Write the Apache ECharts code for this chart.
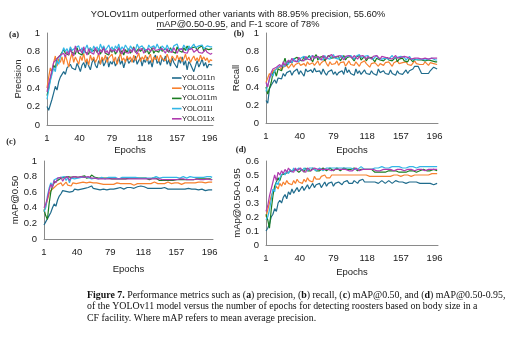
<!DOCTYPE html>
<html><head><meta charset="utf-8">
<script src="https://cdn.jsdelivr.net/npm/echarts@6/dist/echarts.min.js"></script>
<style>html,body{margin:0;padding:0;background:#fff}#c{width:514px;height:337px}</style>
</head><body><div id="c"></div>
<script>
// sampled epochs (every 2nd epoch)
const epochs = [1,3,5,7,9,11,13,15,17,19,21,23,25,27,29,31,33,35,37,39,41,43,45,47,49,51,53,55,57,59,61,63,65,67,69,71,73,75,77,79,81,83,85,87,89,91,93,95,97,99,101,103,105,107,109,111,113,115,117,119,121,123,125,127,129,131,133,135,137,139,141,143,145,147,149,151,153,155,157,159,161,163,165,167,169,171,173,175,177,179,181,183,185,187,189,191,193,195,197,199];
const xTicks = [1,40,79,118,157,196];
const yTicks01 = [0,0.2,0.4,0.6,0.8,1];
const yTicks06 = [0,0.1,0.2,0.3,0.4,0.5,0.6];
const models = ['YOLO11n','YOLO11s','YOLO11m','YOLO11l','YOLO11x'];

// (a) Precision
const precN = [.20,.16,.22,.28,.35,.42,.38,.47,.52,.50, .58,.55,.62,.60,.66,.62,.64,.60,.67,.63, .58,.65,.68,.62,.70,.64,.60,.68,.72,.65, .62,.70,.66,.73,.64,.68,.74,.63,.69,.66, .71,.64,.68,.74,.66,.70,.62,.69,.73,.67, .65,.72,.68,.75,.66,.70,.73,.64,.71,.68, .74,.66,.70,.63,.72,.76,.67,.70,.65,.73, .69,.75,.66,.71,.64,.73,.68,.70,.62,.72, .67,.74,.65,.70,.60,.69,.66,.62,.58,.59, .70,.63,.67,.72,.64,.68,.62,.66,.64,.65];
const precS = [.40,.52,.62,.58,.68,.75,.64,.72,.68,.74, .66,.76,.70,.63,.72,.78,.68,.74,.70,.66, .75,.70,.78,.68,.72,.65,.76,.70,.74,.68, .72,.78,.66,.74,.70,.76,.68,.73,.71,.77, .69,.74,.66,.72,.78,.70,.73,.68,.75,.71, .74,.68,.76,.70,.72,.78,.69,.74,.71,.76, .70,.73,.77,.68,.74,.71,.75,.69,.76,.72, .74,.70,.77,.72,.68,.75,.73,.70,.76,.71, .74,.69,.72,.77,.70,.74,.68,.72,.75,.70, .73,.69,.76,.71,.74,.70,.73,.68,.71,.70];
const precM = [.32,.40,.50,.58,.65,.62,.72,.70,.76,.74, .82,.78,.80,.76,.83,.79,.81,.77,.84,.78, .80,.76,.83,.79,.81,.77,.84,.80,.78,.82, .79,.83,.77,.81,.85,.78,.80,.76,.82,.79, .83,.77,.80,.84,.78,.81,.76,.82,.79,.83, .78,.81,.85,.79,.77,.83,.80,.78,.84,.79, .82,.77,.80,.84,.78,.81,.83,.79,.85,.80, .78,.83,.81,.79,.84,.80,.82,.78,.85,.81, .83,.79,.84,.81,.86,.82,.80,.84,.82,.85, .81,.84,.82,.86,.80,.83,.85,.82,.84,.83];
const precL = [.28,.38,.48,.55,.62,.58,.70,.66,.74,.78, .84,.80,.83,.78,.85,.81,.79,.84,.82,.86, .80,.84,.78,.83,.87,.81,.84,.79,.86,.82, .85,.80,.88,.83,.86,.81,.84,.87,.82,.85, .80,.86,.83,.88,.81,.85,.82,.87,.84,.80, .86,.83,.85,.81,.88,.84,.82,.86,.83,.85, .81,.87,.84,.82,.86,.83,.88,.84,.81,.86, .84,.82,.87,.83,.85,.81,.86,.84,.88,.83, .85,.82,.87,.84,.81,.86,.83,.85,.88,.84, .82,.86,.84,.87,.83,.85,.86,.84,.85,.85];
const precX = [.36,.45,.52,.60,.68,.66,.72,.70,.76,.74, .78,.74,.80,.76,.82,.78,.75,.86,.79,.77, .82,.78,.85,.80,.76,.83,.79,.81,.77,.84, .80,.76,.82,.79,.84,.78,.81,.77,.83,.80, .78,.82,.79,.84,.80,.77,.83,.79,.81,.78, .82,.79,.84,.80,.77,.82,.80,.83,.78,.81, .79,.83,.80,.78,.84,.81,.79,.82,.80,.83, .81,.78,.83,.80,.82,.79,.84,.81,.78,.82, .80,.83,.79,.81,.78,.82,.80,.83,.79,.81, .82,.79,.81,.78,.80,.82,.79,.81,.77,.78];

// (b) Recall
const recN = [.25,.22,.38,.42,.45,.48,.44,.50,.52,.49, .55,.52,.56,.54,.58,.53,.57,.55,.60,.54, .58,.56,.52,.60,.57,.55,.59,.56,.61,.57, .55,.58,.54,.60,.56,.53,.57,.55,.59,.54, .57,.53,.56,.55,.58,.54,.62,.56,.59,.55, .57,.53,.60,.55,.58,.54,.56,.59,.55,.57, .54,.58,.55,.57,.53,.60,.56,.54,.58,.55, .57,.54,.59,.55,.56,.53,.58,.55,.57,.54, .56,.59,.55,.58,.57,.60,.63,.61,.63,.62, .55,.54,.55,.56,.55,.58,.60,.62,.61,.60];
const recS = [.45,.50,.55,.52,.58,.56,.60,.58,.62,.59, .62,.60,.64,.61,.63,.66,.62,.65,.63,.67, .64,.62,.66,.63,.68,.65,.63,.67,.64,.66, .69,.64,.67,.65,.70,.66,.63,.68,.65,.67, .66,.69,.64,.67,.65,.68,.63,.66,.69,.65, .67,.64,.68,.66,.63,.67,.65,.69,.66,.64, .62,.66,.64,.67,.65,.63,.66,.68,.64,.67, .65,.68,.66,.63,.67,.65,.69,.66,.64,.67, .66,.68,.65,.67,.64,.66,.69,.66,.68,.65, .67,.65,.68,.66,.64,.67,.65,.66,.64,.65];
const recM = [.40,.32,.30,.45,.55,.58,.52,.60,.62,.58, .66,.72,.64,.68,.70,.67,.71,.69,.73,.70, .72,.69,.74,.70,.72,.75,.71,.68,.73,.76, .70,.73,.71,.74,.69,.72,.75,.77,.72,.70, .73,.71,.74,.69,.72,.75,.70,.73,.71,.74, .72,.69,.73,.71,.75,.70,.72,.74,.69,.72, .70,.73,.71,.68,.72,.74,.70,.72,.69,.71, .73,.70,.72,.69,.71,.73,.68,.71,.70,.72, .69,.71,.68,.72,.70,.68,.71,.69,.70,.68, .70,.68,.69,.67,.70,.68,.69,.67,.68,.68];
const recL = [.35,.42,.48,.55,.52,.58,.56,.62,.60,.64, .66,.63,.68,.65,.70,.67,.72,.69,.71,.68, .72,.70,.74,.71,.69,.73,.71,.75,.72,.70, .74,.71,.73,.70,.75,.72,.74,.71,.73,.76, .72,.74,.71,.73,.75,.72,.70,.74,.72,.75, .73,.71,.74,.72,.76,.73,.71,.74,.72,.75, .72,.74,.71,.73,.75,.72,.74,.71,.73,.72, .74,.71,.73,.75,.72,.70,.73,.71,.74,.72, .73,.70,.72,.74,.71,.73,.70,.72,.71,.73, .71,.73,.70,.72,.71,.70,.72,.71,.70,.70];
const recX = [.45,.40,.50,.56,.60,.58,.62,.60,.65,.62, .68,.64,.66,.70,.67,.72,.69,.71,.68,.73, .70,.72,.69,.74,.71,.73,.70,.75,.72,.71, .74,.72,.70,.75,.73,.71,.74,.72,.76,.73, .71,.74,.72,.75,.73,.70,.74,.72,.75,.73, .72,.75,.73,.71,.74,.72,.75,.73,.71,.74, .73,.71,.74,.72,.75,.73,.71,.74,.72,.73, .75,.72,.74,.71,.73,.75,.72,.74,.73,.71, .74,.72,.73,.75,.71,.73,.72,.74,.72,.73, .71,.73,.72,.74,.71,.73,.72,.71,.72,.72];

// (c) mAP@0.50
const m50N = [.18,.22,.26,.30,.34,.40,.45,.42,.50,.55, .58,.62,.60,.61,.63,.60,.62,.61,.64,.62, .63,.61,.64,.62,.65,.63,.66,.64,.68,.65, .67,.64,.66,.63,.65,.64,.66,.63,.65,.64, .65,.64,.66,.65,.64,.66,.65,.64,.65,.66, .65,.66,.64,.65,.66,.67,.66,.68,.66,.67, .66,.65,.66,.65,.64,.65,.66,.65,.64,.65, .65,.66,.65,.64,.65,.64,.65,.64,.63,.64, .65,.64,.65,.64,.64,.65,.64,.64,.63,.64, .64,.63,.64,.64,.63,.62,.63,.63,.64,.63];
const m50S = [.35,.42,.50,.58,.62,.60,.66,.64,.70,.68, .72,.68,.70,.73,.69,.71,.68,.72,.70,.71, .69,.72,.70,.73,.71,.72,.70,.73,.71,.72, .71,.72,.70,.71,.72,.70,.71,.70,.71,.70, .71,.70,.71,.72,.70,.71,.70,.71,.70,.71, .70,.71,.70,.69,.70,.71,.72,.71,.70,.71, .72,.71,.70,.71,.72,.73,.72,.71,.72,.71, .72,.71,.72,.73,.72,.71,.72,.72,.73,.72, .71,.70,.71,.72,.71,.72,.71,.72,.73,.72, .72,.73,.72,.73,.73,.72,.73,.73,.73,.73];
const m50M = [.38,.30,.25,.45,.60,.68,.72,.70,.75,.74, .78,.76,.79,.77,.80,.78,.79,.77,.80,.78, .79,.78,.80,.79,.81,.78,.80,.79,.82,.80, .79,.80,.78,.79,.78,.79,.78,.77,.78,.78, .77,.78,.77,.78,.77,.78,.77,.78,.77,.78, .78,.77,.78,.77,.78,.77,.78,.77,.78,.77, .78,.77,.76,.77,.78,.77,.78,.76,.75,.76, .75,.76,.75,.74,.75,.76,.75,.76,.76,.75, .76,.75,.76,.77,.76,.75,.76,.77,.76,.76, .77,.76,.77,.76,.77,.76,.77,.76,.77,.76];
const m50L = [.35,.40,.55,.65,.72,.68,.76,.74,.78,.80, .79,.77,.80,.75,.79,.72,.78,.80,.77,.79, .78,.80,.79,.78,.79,.77,.79,.78,.77,.78, .78,.79,.77,.78,.79,.78,.77,.78,.79,.78, .79,.78,.79,.78,.77,.78,.79,.78,.79,.78, .79,.78,.79,.78,.79,.80,.78,.79,.78,.79, .78,.79,.78,.79,.78,.79,.80,.79,.78,.79, .79,.78,.79,.78,.79,.80,.79,.78,.79,.79, .78,.79,.80,.79,.78,.79,.80,.79,.79,.80, .79,.80,.79,.80,.79,.79,.80,.79,.80,.79];
const m50X = [.40,.45,.52,.62,.70,.66,.75,.72,.78,.76, .79,.74,.78,.76,.80,.75,.79,.77,.80,.78, .79,.77,.80,.78,.79,.77,.80,.79,.78,.79, .78,.79,.77,.78,.77,.78,.77,.78,.77,.78, .77,.78,.77,.76,.77,.78,.77,.76,.77,.76, .77,.76,.77,.78,.77,.76,.77,.76,.77,.76, .77,.76,.77,.76,.77,.76,.77,.76,.77,.76, .76,.77,.76,.77,.76,.75,.76,.77,.76,.76, .77,.76,.77,.76,.76,.77,.76,.77,.76,.76, .77,.76,.76,.77,.76,.76,.77,.76,.76,.76];

// (d) mAP@0.50-0.95
const m95N = [.10,.12,.15,.20,.22,.26,.24,.30,.32,.30, .34,.36,.33,.38,.36,.40,.37,.39,.41,.38, .40,.42,.39,.41,.43,.40,.42,.44,.41,.43, .42,.44,.41,.43,.45,.42,.44,.43,.45,.42, .44,.43,.45,.44,.43,.45,.44,.46,.44,.45, .44,.46,.45,.44,.46,.45,.47,.45,.44,.45, .46,.45,.44,.45,.46,.44,.45,.46,.45,.44, .45,.46,.45,.44,.45,.46,.45,.45,.44,.45, .45,.44,.45,.45,.44,.45,.44,.45,.44,.44, .45,.44,.45,.44,.45,.44,.44,.43,.44,.44];
const m95S = [.20,.25,.30,.35,.38,.40,.42,.40,.44,.42, .45,.43,.46,.44,.45,.43,.46,.44,.47,.45, .46,.44,.47,.45,.48,.46,.47,.45,.49,.47, .48,.47,.49,.48,.50,.48,.49,.48,.50,.49, .50,.49,.50,.49,.50,.51,.50,.49,.50,.51, .50,.49,.50,.51,.50,.49,.50,.49,.50,.50, .49,.50,.49,.50,.49,.50,.49,.48,.49,.50, .49,.50,.49,.50,.50,.49,.50,.50,.49,.50, .50,.49,.50,.50,.49,.50,.50,.51,.50,.50, .50,.51,.50,.51,.50,.51,.51,.50,.51,.51];
const m95M = [.22,.18,.12,.25,.35,.42,.45,.48,.46,.50, .49,.51,.50,.52,.51,.53,.52,.54,.53,.52, .53,.54,.52,.55,.53,.54,.53,.55,.54,.53, .54,.53,.54,.55,.54,.53,.54,.55,.54,.53, .54,.55,.54,.53,.54,.55,.54,.54,.53,.54, .54,.55,.54,.53,.54,.54,.55,.54,.53,.54, .53,.54,.53,.52,.53,.52,.51,.52,.53,.52, .52,.53,.52,.53,.52,.53,.53,.52,.53,.52, .53,.52,.53,.53,.52,.53,.53,.52,.53,.53, .53,.54,.53,.53,.54,.53,.53,.54,.53,.53];
const m95L = [.18,.20,.25,.32,.40,.38,.45,.43,.48,.50, .52,.50,.53,.51,.54,.52,.55,.53,.54,.55, .54,.53,.55,.54,.53,.55,.54,.55,.54,.53, .54,.55,.54,.53,.54,.55,.54,.55,.54,.55, .54,.55,.54,.55,.56,.55,.54,.55,.54,.55, .55,.54,.55,.54,.55,.56,.55,.54,.55,.54, .55,.54,.55,.55,.54,.55,.55,.56,.55,.55, .56,.55,.55,.56,.55,.56,.55,.56,.56,.55, .56,.55,.56,.56,.55,.56,.56,.55,.56,.56, .56,.56,.55,.56,.56,.56,.55,.56,.56,.56];
const m95X = [.24,.28,.35,.40,.45,.50,.46,.52,.50,.53, .51,.54,.52,.55,.53,.54,.52,.55,.53,.54, .55,.53,.54,.52,.55,.54,.53,.54,.55,.54, .54,.53,.54,.53,.54,.53,.54,.54,.53,.54, .54,.53,.54,.55,.54,.53,.54,.54,.53,.54, .53,.54,.55,.54,.53,.54,.54,.53,.54,.54, .54,.53,.54,.54,.53,.54,.53,.54,.54,.53, .54,.53,.54,.54,.53,.54,.54,.53,.54,.54, .53,.54,.54,.53,.54,.54,.53,.54,.54,.53, .54,.54,.53,.54,.54,.53,.54,.54,.54,.54];

const colors = ['#1F6B8C','#F7812F','#1A7D22','#33B6E6','#B03BAE'];
const panels = [
  {series:[precN,precS,precM,precL,precX], ticks:yTicks01, name:'Precision', grid:{left:47,top:33,width:166,height:92}, xGap:20, yGap:23},
  {series:[recN,recS,recM,recL,recX], ticks:yTicks01, name:'Recall', grid:{left:266,top:33,width:172,height:90}, xGap:22, yGap:25},
  {series:[m50N,m50S,m50M,m50L,m50X], ticks:yTicks01, name:'mAP@0.50', grid:{left:44,top:161,width:169,height:78}, xGap:25, yGap:22},
  {series:[m95N,m95S,m95M,m95L,m95X], ticks:yTicks06, name:'mAp@0.50-0.95', grid:{left:266,top:161,width:172,height:84}, xGap:22, yGap:24}
];

const categories = [];
for (let e = 1; e <= 200; e++) categories.push(String(e));

const SANS = '"Liberation Sans", Arial, sans-serif';
const SERIF = '"Liberation Serif", "Times New Roman", serif';
const txt = '#1a1a1a';
const axisCol = '#8a8a8a';

const grid = [], xAxis = [], yAxis = [], series = [];
panels.forEach((p, pi) => {
  grid.push(Object.assign({containLabel:false}, p.grid));
  xAxis.push({
    type:'category', gridIndex:pi, data:categories, boundaryGap:false,
    name:'Epochs', nameLocation:'middle', nameGap:p.xGap,
    nameTextStyle:{fontFamily:SANS, fontSize:9.5, color:txt},
    axisLine:{lineStyle:{color:axisCol, width:1}}, axisTick:{show:false},
    axisLabel:{interval:(idx, val) => xTicks.includes(Number(val)), hideOverlap:false, fontFamily:SANS, fontSize:9.5, color:txt, margin:8},
    splitLine:{show:false}
  });
  const t = p.ticks;
  yAxis.push({
    type:'value', gridIndex:pi, min:t[0], max:t[t.length-1], interval:t[1]-t[0],
    name:p.name, nameLocation:'middle', nameGap:p.yGap, nameRotate:90,
    nameTextStyle:{fontFamily:SANS, fontSize:9.5, color:txt},
    axisLine:{show:true, lineStyle:{color:axisCol, width:1}}, axisTick:{show:false},
    axisLabel:{fontFamily:SANS, fontSize:9.5, color:txt, margin:7},
    splitLine:{show:false}
  });
  p.series.forEach((vals, mi) => {
    series.push({
      type:'line', name:models[mi], xAxisIndex:pi, yAxisIndex:pi,
      data: epochs.map((e, i) => [String(e), vals[i]]),
      showSymbol:false, symbol:'none', animation:false,
      lineStyle:{color:colors[mi], width:1.2}, itemStyle:{color:colors[mi]},
      z: 2 + mi
    });
  });
});

// title layout measured with canvas
const cv = document.createElement('canvas').getContext('2d');
const titleFont = '9.3px ' + SANS;
cv.font = titleFont;
const t2a = 'mAP@0.50-0.95', t2b = ', and F-1 score of 78%';
const w2a = cv.measureText(t2a).width, w2b = cv.measureText(t2b).width;
const cx = 238, x2 = cx - (w2a + w2b) / 2;

function T(text, x, y, font, align, extra) {
  return {type:'text', silent:true, z:100, style:Object.assign({text, x, y, font, fill:txt, textAlign:align||'left', textVerticalAlign:'middle', align:align||'left', verticalAlign:'middle'}, extra||{})};
}
const capSize = 9.9;
const capFont = capSize + 'px ' + SERIF;
const rich = {b:{fontWeight:'bold', fontFamily:'Liberation Serif', fontSize:capSize, fill:'#111'}, n:{fontFamily:'Liberation Serif', fontSize:capSize, fill:'#111'}};
const graphic = [
  T('YOLOv11m outperformed other variants with 88.95% precision, 55.60%', cx, 14, titleFont, 'center'),
  T(t2a, x2, 24, titleFont, 'left'),
  T(t2b, x2 + w2a, 24, titleFont, 'left'),
  {type:'line', silent:true, shape:{x1:x2, y1:29.5, x2:x2 + w2a, y2:29.5}, style:{stroke:txt, lineWidth:0.8}},
  T('(a)', 14, 35, 'bold 8.5px ' + SERIF, 'center'),
  T('(b)', 239, 34, 'bold 8.5px ' + SERIF, 'center'),
  T('(c)', 11, 142, 'bold 8.5px ' + SERIF, 'center'),
  T('(d)', 241, 150, 'bold 8.5px ' + SERIF, 'center'),
  T('{b|Figure 7.}{n| Performance metrics such as (}{b|a}{n|) precision, (}{b|b}{n|) recall, (}{b|c}{n|) mAP@0.50, and (}{b|d}{n|) mAP@0.50-0.95,}', 87, 295, capFont, 'left', {rich}),
  T('of the YOLOv11 model versus the number of epochs for detecting roosters based on body size in a', 87, 306.5, capFont, 'left', {fill:'#111'}),
  T('CF facility. Where mAP refers to mean average precision.', 87, 318, capFont, 'left', {fill:'#111'})
];
// legend for panel (a), drawn from the models/colors lists
models.forEach((m, i) => {
  const y = 78 + i * 10.2;
  graphic.push({type:'line', silent:true, z:100, shape:{x1:172, y1:y, x2:181.5, y2:y}, style:{stroke:colors[i], lineWidth:1.6}});
  graphic.push(T(m, 182, y, '7.5px ' + SANS, 'left'));
});

const chart = echarts.init(document.getElementById('c'), null, {renderer:'canvas'});
chart.setOption({
  animation:false,
  backgroundColor:'#fff',
  grid, xAxis, yAxis, series, graphic
});
</script></body></html>
